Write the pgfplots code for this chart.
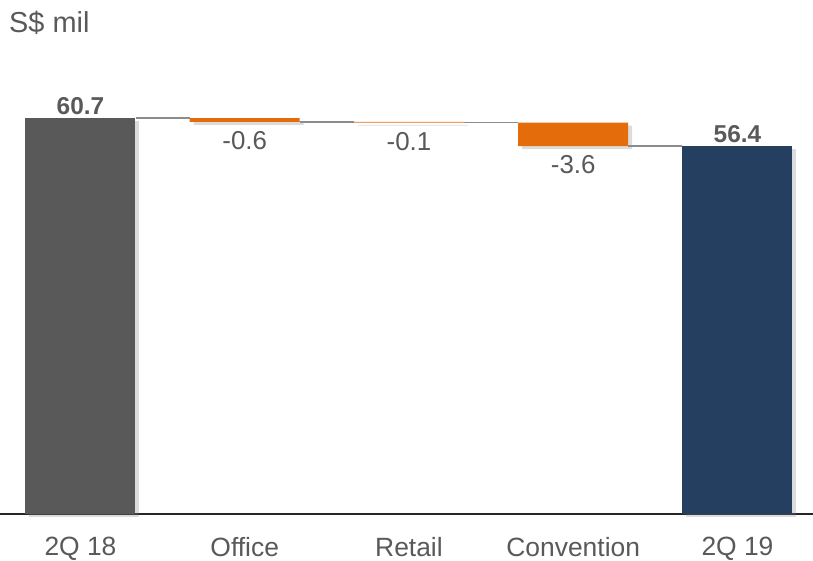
\documentclass[border=0pt]{standalone}
\usepackage{fontspec}
\setmainfont{Liberation Sans}
\usepackage{pgfplots}
\pgfplotsset{compat=1.18}
\usetikzlibrary{shadows}
\definecolor{bargray}{HTML}{595959}
\definecolor{barorange}{HTML}{E46C0A}
\definecolor{barnavy}{HTML}{243F60}
\definecolor{txtgray}{HTML}{595959}
\definecolor{conngray}{HTML}{8C8C8C}
\pgfplotsset{
  common/.style={
    at={(0bp,47bp)}, anchor=south west,
    scale only axis, width=813bp, height=424bp,
    xmin=-0.49, xmax=4.46, ymin=0, ymax=65,
    clip=false,
  },
  shad/.style={drop shadow={opacity=0.28, shadow xshift=4bp, shadow yshift=-3bp}},
}
\begin{document}
\begin{tikzpicture}
\useasboundingbox (0,0) rectangle (813bp,561bp);
\node[anchor=west, text=txtgray, font=\fontsize{29}{34}\selectfont, inner sep=0pt] at (9bp,538bp) {S\$ mil};
% bars
\begin{axis}[
  common,
  axis y line=none, axis x line=bottom,
  x axis line style={-, draw=black!85, line width=1.3bp},
  xtick={0,1,2,3,4},
  xticklabels={2Q 18, Office, Retail, Convention, 2Q 19},
  major tick length=0pt,
  xticklabel style={text=txtgray, font=\fontsize{26.5}{30}\selectfont, yshift=-20bp},
  ytick=\empty,
  ybar stacked, bar width=110bp,
]
\addplot[draw=none, fill=none] coordinates {(0,0) (1,60.1) (2,60.0) (3,56.4) (4,0)};
\addplot[draw=none, fill=bargray, shad] coordinates {(0,60.7) (1,0) (2,0) (3,0) (4,0)};
\addplot[draw=none, fill=barorange, shad] coordinates {(0,0) (1,0.6) (2,0.1) (3,3.6) (4,0)};
\addplot[draw=none, fill=barnavy, shad] coordinates {(0,0) (1,0) (2,0) (3,0) (4,56.4)};
\end{axis}
% connectors and labels
\begin{axis}[
  common, hide axis,
  point meta=explicit symbolic,
]
\addplot[sharp plot, conngray, line width=1.5bp] coordinates {(0.335,60.7) (0.665,60.7)};
\addplot[sharp plot, conngray, line width=1.5bp] coordinates {(1.335,60.1) (1.665,60.1)};
\addplot[sharp plot, conngray, line width=1.5bp] coordinates {(2.335,60.0) (2.665,60.0)};
\addplot[sharp plot, conngray, line width=1.5bp] coordinates {(3.335,56.4) (3.665,56.4)};
\addplot[draw=none, mark=none, nodes near coords,
  every node near coord/.append style={anchor=north, text=txtgray, font=\fontsize{26}{30}\selectfont, yshift=-6bp}]
  coordinates {(1,60.1)[-0.6] (2,60.0)[-0.1] (3,56.4)[-3.6]};
\addplot[draw=none, mark=none, nodes near coords,
  every node near coord/.append style={anchor=south, text=txtgray, font=\bfseries\fontsize{24.5}{28}\selectfont, yshift=0bp}]
  coordinates {(0,60.7)[60.7] (4,56.4)[56.4]};
\end{axis}
\end{tikzpicture}
\end{document}
